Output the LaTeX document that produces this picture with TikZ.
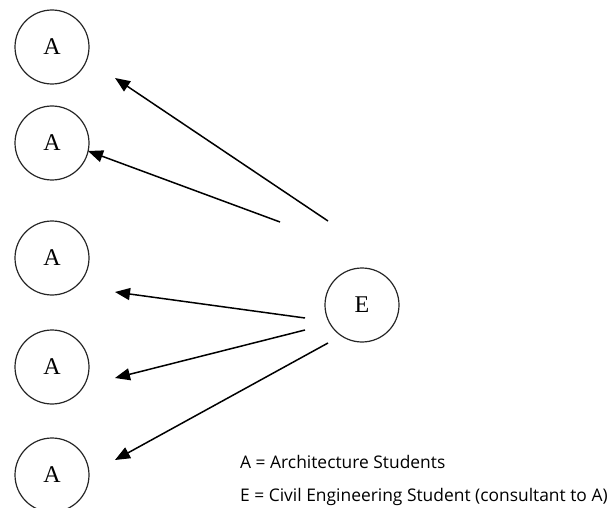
\documentclass[tikz,border=0pt]{standalone}
\usepackage{fontspec}
\setmainfont{Liberation Serif}
\newfontfamily\legendfont{Open Sans}
\usetikzlibrary{arrows.meta}

\tikzset{
  student/.style={draw=black!85, circle, line width=1.2pt, minimum size=74pt, inner sep=0pt, font=\fontsize{24}{24}\selectfont},
  advice/.style={line width=1.5pt, -{Triangle[length=15pt,width=12pt]}},
  legend/.style={anchor=base west, inner sep=0pt, font=\legendfont\fontsize{17.4}{17.4}\selectfont}
}

\begin{document}
\begin{tikzpicture}[x=1pt, y=-1pt]
    \useasboundingbox (0,0) rectangle (611,508);

    % students
    \node[student] (a1) at (52,47) {A};
    \node[student] (a2) at (52,143) {A};
    \node[student] (a3) at (52,258) {A};
    \node[student] (a4) at (52,367) {A};
    \node[student] (a5) at (52,475) {A};
    \node[student] (e) at (362,305) {E};

    % arrow ends
    \coordinate (s1) at (328,221);
    \coordinate (s2) at (280,222);
    \coordinate (s3) at (305,318);
    \coordinate (s4) at (305,330);
    \coordinate (s5) at (328,343);
    \coordinate (t1) at (115,78);
    \coordinate (t2) at (88,151);
    \coordinate (t3) at (115,292);
    \coordinate (t4) at (115,378);
    \coordinate (t5) at (115,460);

    \foreach \i in {1,...,5}
    \draw[advice] (s\i) -- (t\i);

    % legend
    \node[legend] (la) at (240,468) {A = Architecture Students};
    \node[legend] (le) at (240,501) {E = Civil Engineering Student (consultant to A)};

\end{tikzpicture}
\end{document}
